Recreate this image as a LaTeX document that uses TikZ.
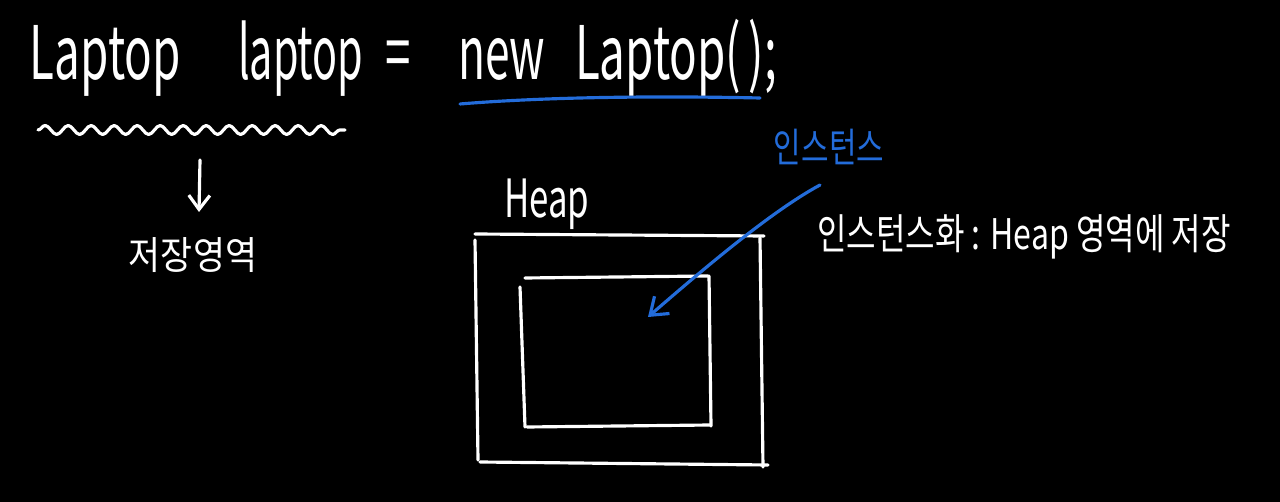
\documentclass[tikz,border=0pt]{standalone}
\usepackage{fontspec}
\setmainfont{Noto Sans CJK KR}
\usetikzlibrary{arrows.meta,decorations.pathmorphing}
\definecolor{penblue}{RGB}{35,108,218}
\newcommand\handtxt[3]{\scalebox{#1}[1]{\fontsize{#2}{#2}\selectfont #3}}
\begin{document}
\begin{tikzpicture}[x=0.02cm,y=-0.02cm,
  pen/.style={line width=1.8pt,line cap=round,line join=round,draw=white},
  bluepen/.style={line width=1.8pt,line cap=round,line join=round,draw=penblue},
  txt/.style={text=white,inner sep=0pt,outer sep=0pt},
  btxt/.style={text=penblue,inner sep=0pt,outer sep=0pt},
  barb/.style={-{Straight Barb[length=8pt,width=12pt,line width=1.8pt]}}]
\fill[black] (0,0) rectangle (1280,502);
\useasboundingbox (0,0) rectangle (1280,502);

% title line
\node[txt,anchor=base west] (w1) at (30,80) {\handtxt{0.62}{42}{Laptop}};
\node[txt,anchor=base west] (w2) at (238,80) {\handtxt{0.56}{42}{laptop}};
\node[txt,anchor=base west] (w3) at (385,80) {\handtxt{0.62}{42}{=}};
\node[txt,anchor=base west] (w4) at (458,80) {\handtxt{0.6}{42}{new}};
\node[txt,anchor=base west] (w5) at (575,80) {\handtxt{0.62}{42}{Laptop(\,);}};

% wavy underline and blue underline
\coordinate (wv1) at (38,130);
\coordinate (wv2) at (345,130);
\draw[pen,decorate,decoration={snake,amplitude=0.09cm,segment length=0.46cm}] (wv1) -- (wv2);
\coordinate (bu1) at (460,104);
\coordinate (bu2) at (760,98);
\draw[bluepen] (bu1) .. controls (520,99) and (620,95) .. (bu2);

% storage area
\coordinate (da1) at (200,160);
\node[txt] (store) at (193,255) {\handtxt{0.9}{22}{저장영역}};
\draw[pen,barb] (da1) -- (199,212);

% heap
\node[txt,anchor=base west] (heap) at (504,218) {\handtxt{0.66}{30}{Heap}};
\draw[pen] (475,234) -- (764,236);
\draw[pen] (475,240) -- (478,460);
\draw[pen] (480,462) -- (768,465);
\draw[pen] (760,238) -- (763,467);
\draw[pen] (525,278) -- (708,276);
\draw[pen] (520,287) -- (525,427);
\draw[pen] (527,427) -- (710,425);
\draw[pen] (709,276) -- (711,426);

% instance label and arrow
\node[btxt] (inst) at (829,147) {\handtxt{0.74}{23}{인스턴스}};
\coordinate (as) at (820,185);
\coordinate (ae) at (648,317);
\draw[bluepen,-{Straight Barb[length=9pt,width=13pt,line width=1.8pt]}] (as) .. controls (770,212) and (700,272) .. (ae);

% explanation
\node[txt] (expl) at (1024,237) {\handtxt{0.76}{24}{인스턴스화 : Heap 영역에 저장}};
\end{tikzpicture}
\end{document}
